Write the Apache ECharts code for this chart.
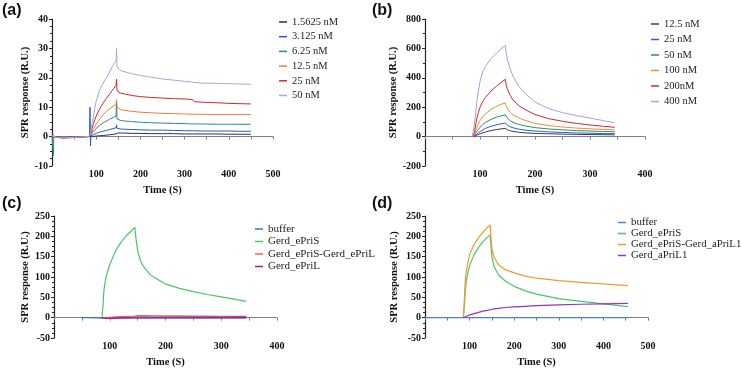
<!DOCTYPE html>
<html>
<head>
<meta charset="utf-8">
<script src="https://cdn.jsdelivr.net/npm/echarts@6/dist/echarts.min.js"></script>
<style>
  html, body { margin: 0; padding: 0; background: #fff; }
  #chart { width: 741px; height: 369px; }
</style>
</head>
<body>
<div id="chart"></div>
<script>
// ---- panel (a): low concentration series ----
const timeA = [0, 2, 3, 4, 10, 25, 40, 60, 80, 85, 86, 87, 88, 90, 94, 97, 100, 108, 115, 123, 130, 140, 145, 146, 147, 150, 155, 165, 180, 200, 225, 250, 275, 300, 318, 322, 340, 375, 400, 425, 450];
const a1_5625 = [0.2, 0.1, 0, 0, -0.1, -0.3, -0.2, -0.1, 0, 0, 0, 0, 0, 0.05, 0.1, 0.15, 0.2, 0.3, 0.4, 0.5, 0.6, 0.8, 1.0, 1.5, 1.2, 1.2, 1.2, 1.2, 1.1, 1.1, 1.0, 1.0, 1.0, 0.9, 0.9, 0.9, 0.9, 0.9, 0.8, 0.8, 0.8];
const a3_125 = [0.3, 0.2, 0, 0, -0.1, -0.3, -0.3, -0.1, 0, 0, 10, -3.2, 0.2, 0.4, 0.7, 0.9, 1.1, 1.5, 1.8, 2.1, 2.4, 2.8, 3.0, 4.0, 2.8, 2.7, 2.6, 2.5, 2.4, 2.3, 2.2, 2.2, 2.1, 2.0, 2.0, 1.9, 1.9, 1.9, 1.9, 1.8, 1.8];
const a6_25 = [0.3, 0.1, -6.5, 0, -0.2, -0.4, -0.3, -0.2, 0, 0.1, 0.2, 0.3, 0.5, 1.0, 1.8, 2.3, 2.8, 3.8, 4.6, 5.3, 5.9, 6.6, 7.0, 12.5, 6.0, 5.8, 5.5, 5.3, 5.1, 4.9, 4.7, 4.6, 4.5, 4.4, 4.3, 4.3, 4.3, 4.2, 4.2, 4.2, 4.2];
const a12_5 = [0.2, 0.1, 0, 0, -0.2, -0.4, -0.3, -0.2, 0, 0.1, 0.2, 0.4, 0.8, 1.5, 2.7, 3.5, 4.2, 6.0, 7.3, 8.5, 9.4, 10.5, 11.0, 12.5, 10.0, 9.6, 9.2, 8.9, 8.6, 8.3, 8.1, 7.9, 7.8, 7.7, 7.6, 7.6, 7.6, 7.5, 7.5, 7.5, 7.5];
const a25 = [0.2, 0.1, 0, 0, -0.3, -0.5, -0.4, -0.2, 0, 0.1, 0.3, 0.6, 1.2, 2.5, 4.5, 5.8, 7.0, 9.5, 11.3, 13.0, 14.4, 16.4, 17.5, 19.5, 16.0, 15.2, 14.8, 14.5, 14.0, 13.6, 13.3, 13.1, 12.9, 12.8, 12.6, 11.9, 11.7, 11.5, 11.3, 11.2, 11.1];
const a50 = [0.3, 0.2, 0, 0, -0.2, -0.4, -0.3, -0.2, 0, 0.2, 0.4, 0.8, 1.8, 4.0, 7.0, 10.0, 12.0, 16.0, 18.0, 20.0, 22.0, 24.8, 26.0, 30.0, 24.0, 23.0, 22.5, 22.0, 21.4, 20.8, 20.2, 19.6, 19.2, 18.8, 18.5, 18.4, 18.2, 18.1, 18.0, 17.9, 17.8];

// ---- panel (b): high concentration series ----
const timeB = [86, 88, 90, 92, 95, 100, 105, 110, 120, 130, 140, 146, 148, 150, 155, 160, 170, 180, 200, 225, 250, 275, 300, 325, 345];
const b12_5 = [0, 0, 2, 6, 11, 19, 26, 32, 41, 48, 53, 56, 50, 46, 40, 35, 30, 26, 22, 19, 17, 15, 14, 13, 12];
const b25 = [0, 0, 4, 11, 20, 34, 46, 56, 70, 80, 88, 92, 83, 77, 67, 60, 51, 45, 38, 32, 28, 25, 23, 21, 20];
const b50 = [0, 0, 8, 22, 40, 63, 82, 97, 117, 132, 143, 148, 133, 123, 108, 97, 83, 74, 61, 52, 46, 41, 38, 35, 33];
const b100 = [0, 0, 15, 40, 70, 108, 135, 155, 185, 205, 222, 230, 205, 190, 165, 148, 128, 113, 90, 75, 65, 58, 53, 49, 46];
const b200 = [0, 0, 30, 80, 140, 200, 240, 268, 310, 343, 372, 390, 345, 320, 280, 250, 212, 188, 150, 122, 104, 90, 79, 70, 63];
const b400 = [0, 0, 90, 160, 260, 375, 440, 478, 530, 568, 603, 620, 560, 520, 460, 410, 345, 300, 235, 190, 163, 143, 126, 108, 94];

// ---- panel (c) ----
const timeC = [50, 60, 80, 86, 87, 88, 89, 90, 93, 96, 100, 110, 120, 130, 140, 145, 147, 150, 155, 160, 173, 200, 225, 250, 275, 300, 325, 345];
const cBuffer = [0, 0, -0.5, -1, -1, -1, -1, -1, -1, -1, -1, -1, -1, -1, -1, -1, -1, -1, -1, -1, -1, -1, -1, -1, -1, -1, -1, -1];
const cEPriS = [null, null, null, 0, -4, 30, 55, 72, 98, 113, 130, 163, 185, 202, 215, 222, 195, 165, 140, 127, 105, 83, 72, 64, 57, 51, 45, 40];
const cEPriSEPriL = [null, null, null, 0, -3, -1, -1, 0, 0.5, 0.8, 1, 2, 2.5, 3, 3.5, 4, 5, 5, 5, 5, 4.8, 4.5, 4.3, 4, 3.8, 3.5, 3.2, 3];
const cEPriL = [null, null, null, 0, -4, 2, 0, -1, -1.5, -1.5, -1.5, -1, -0.5, 0, 0.5, 1, 3, 1.5, 1.5, 1.5, 1.5, 1.5, 1.5, 1.5, 1.5, 1.5, 1.5, 1.5];

// ---- panel (d) ----
const timeD = [0, 86, 88, 89, 90, 92, 95, 100, 110, 120, 130, 140, 146, 148, 150, 155, 165, 180, 200, 225, 250, 300, 350, 400, 455];
const dBuffer = [0, 0, 0, 0, 0, 0, 0, 0, 0, 0, 0, 0, 0, 0, 0, 0, 0, 0, 0, 0, 0, 0, 0, 0, 0];
const dEPriS = [null, 0, 0, 40, 60, 85, 105, 128, 155, 173, 187, 198, 203, 175, 150, 125, 105, 90, 77, 66, 58, 47, 40, 34, 27];
const dEPriSAPriL1 = [null, 0, 0, 60, 85, 110, 130, 155, 180, 197, 210, 222, 228, 195, 170, 148, 130, 118, 110, 102, 97, 91, 87, 83, 79];
const dAPriL1 = [null, 0, 0, 1, 2, 3, 5, 7, 10, 13, 16, 18, 19.5, 20, 20.5, 21.5, 23, 25, 26.5, 28, 29.5, 31.5, 33, 34, 35];

const SERIF = 'Liberation Serif';
const INK = '#111';

function xAxisFor(gridIndex, max) {
  return {
    type: 'value',
    gridIndex,
    min: 0,
    max,
    interval: 100,
    name: 'Time (S)',
    nameLocation: 'middle',
    nameGap: 19,
    nameTextStyle: { fontFamily: SERIF, fontWeight: 'bold', fontSize: 10.5, color: INK },
    axisLine: { onZero: true, lineStyle: { color: '#808080', width: 1.2 } },
    axisTick: { length: 3, lineStyle: { color: '#808080' } },
    minorTick: { show: true, splitNumber: 2, length: 3, lineStyle: { color: '#808080' } },
    axisLabel: { showMinLabel: false, fontFamily: SERIF, fontWeight: 'bold', fontSize: 10, color: INK, margin: 3 },
    splitLine: { show: false },
  };
}

function yAxisFor(gridIndex, min, max, interval, minorSplit, nameGap) {
  return {
    type: 'value',
    gridIndex,
    min,
    max,
    interval,
    name: 'SPR response (R.U.)',
    nameLocation: 'middle',
    nameGap,
    nameTextStyle: { fontFamily: SERIF, fontWeight: 'bold', fontSize: 10.5, color: INK },
    axisLine: { show: true, lineStyle: { color: '#222', width: 1.2 } },
    axisTick: { show: true, length: 3, lineStyle: { color: '#222' } },
    minorTick: { show: true, splitNumber: minorSplit, length: 2, lineStyle: { color: '#222' } },
    axisLabel: { fontFamily: SERIF, fontWeight: 'bold', fontSize: 10, color: INK, margin: 4 },
    splitLine: { show: false },
  };
}

// names carry a panel prefix so equal labels in two panels stay separate
function lineSeries(panel, label, times, values, color, axisIndex, width) {
  return {
    name: panel + '|' + label,
    type: 'line',
    xAxisIndex: axisIndex,
    yAxisIndex: axisIndex,
    data: times.map((t, i) => [t, values[i]]).filter((p) => p[1] !== null),
    showSymbol: false,
    symbol: 'none',
    lineStyle: { color, width },
    itemStyle: { color },
  };
}

function legendFor(panel, names, left, top, fontSize, lineHeight, itemGap) {
  return {
    orient: 'vertical',
    left,
    top,
    icon: 'rect',
    itemWidth: 8,
    itemHeight: 1.5,
    itemGap,
    selectedMode: false,
    data: names.map((n) => panel + '|' + n),
    formatter: (name) => name.split('|')[1],
    textStyle: { fontFamily: SERIF, fontSize, lineHeight, color: '#222' },
  };
}

const seriesA = [
  lineSeries('a', '1.5625 nM', timeA, a1_5625, '#2c2c5e', 0, 1),
  lineSeries('a', '3.125 nM', timeA, a3_125, '#2a58c8', 0, 1),
  lineSeries('a', '6.25 nM', timeA, a6_25, '#2f8a86', 0, 1),
  lineSeries('a', '12.5 nM', timeA, a12_5, '#ee7a38', 0, 1),
  lineSeries('a', '25 nM', timeA, a25, '#d42626', 0, 1),
  lineSeries('a', '50 nM', timeA, a50, '#aaa4dc', 0, 1),
];
const seriesB = [
  lineSeries('b', '12.5 nM', timeB, b12_5, '#3a3a5e', 1, 1),
  lineSeries('b', '25 nM', timeB, b25, '#2a5ec8', 1, 1),
  lineSeries('b', '50 nM', timeB, b50, '#2c8a7c', 1, 1),
  lineSeries('b', '100 nM', timeB, b100, '#f08c3a', 1, 1),
  lineSeries('b', '200nM', timeB, b200, '#d42626', 1, 1),
  lineSeries('b', '400 nM', timeB, b400, '#a8a2d8', 1, 1),
];
const seriesC = [
  lineSeries('c', 'buffer', timeC, cBuffer, '#3d6fc6', 2, 1.2),
  lineSeries('c', 'Gerd_ePriS', timeC, cEPriS, '#4cc46a', 2, 1.2),
  lineSeries('c', 'Gerd_ePriS-Gerd_ePriL', timeC, cEPriSEPriL, '#f25a68', 2, 1.2),
  lineSeries('c', 'Gerd_ePriL', timeC, cEPriL, '#a3206e', 2, 1.2),
];
const seriesD = [
  lineSeries('d', 'buffer', timeD, dBuffer, '#4a80da', 3, 1.2),
  lineSeries('d', 'Gerd_ePriS', timeD, dEPriS, '#4cc46a', 3, 1.2),
  lineSeries('d', 'Gerd_ePriS-Gerd_aPriL1', timeD, dEPriSAPriL1, '#f09a2c', 3, 1.2),
  lineSeries('d', 'Gerd_aPriL1', timeD, dAPriL1, '#9a30c4', 3, 1.2),
];

const chart = echarts.init(document.getElementById('chart'));

const panelTitle = (text, left, top) => ({
  text,
  left,
  top,
  padding: 0,
  textStyle: { fontFamily: 'Liberation Sans', fontWeight: 'bold', fontSize: 16, color: '#111' },
});

chart.setOption({
  animation: false,
  backgroundColor: '#fff',
  title: [
    panelTitle('(a)', 2, 3),
    panelTitle('(b)', 372, 3),
    panelTitle('(c)', 2, 196),
    panelTitle('(d)', 372, 196),
  ],
  grid: [
    { left: 52, top: 19, width: 221, height: 147 },
    { left: 425, top: 19, width: 220, height: 147 },
    { left: 54, top: 216, width: 223, height: 148 },
    { left: 425, top: 216, width: 223, height: 148 },
  ],
  xAxis: [
    xAxisFor(0, 500),
    xAxisFor(1, 400),
    xAxisFor(2, 400),
    xAxisFor(3, 500),
  ],
  yAxis: [
    yAxisFor(0, -10, 40, 10, 4, 21),
    yAxisFor(1, -200, 800, 200, 2, 26),
    yAxisFor(2, -50, 250, 50, 4, 23),
    yAxisFor(3, -50, 250, 50, 4, 25),
  ],
  legend: [
    legendFor('a', ['1.5625 nM', '3.125 nM', '6.25 nM', '12.5 nM', '25 nM', '50 nM'], 274, 11, 10.5, 12, 2.7),
    legendFor('b', ['12.5 nM', '25 nM', '50 nM', '100 nM', '200nM', '400 nM'], 646, 13, 10.5, 12, 3.5),
    legendFor('c', ['buffer', 'Gerd_ePriS', 'Gerd_ePriS-Gerd_ePriL', 'Gerd_ePriL'], 250, 218, 11, 12, 0.5),
    legendFor('d', ['buffer', 'Gerd_ePriS', 'Gerd_ePriS-Gerd_aPriL1', 'Gerd_aPriL1'], 613, 212, 10.8, 11, 0),
  ],
  series: [...seriesA, ...seriesB, ...seriesC, ...seriesD],
});
</script>
</body>
</html>
